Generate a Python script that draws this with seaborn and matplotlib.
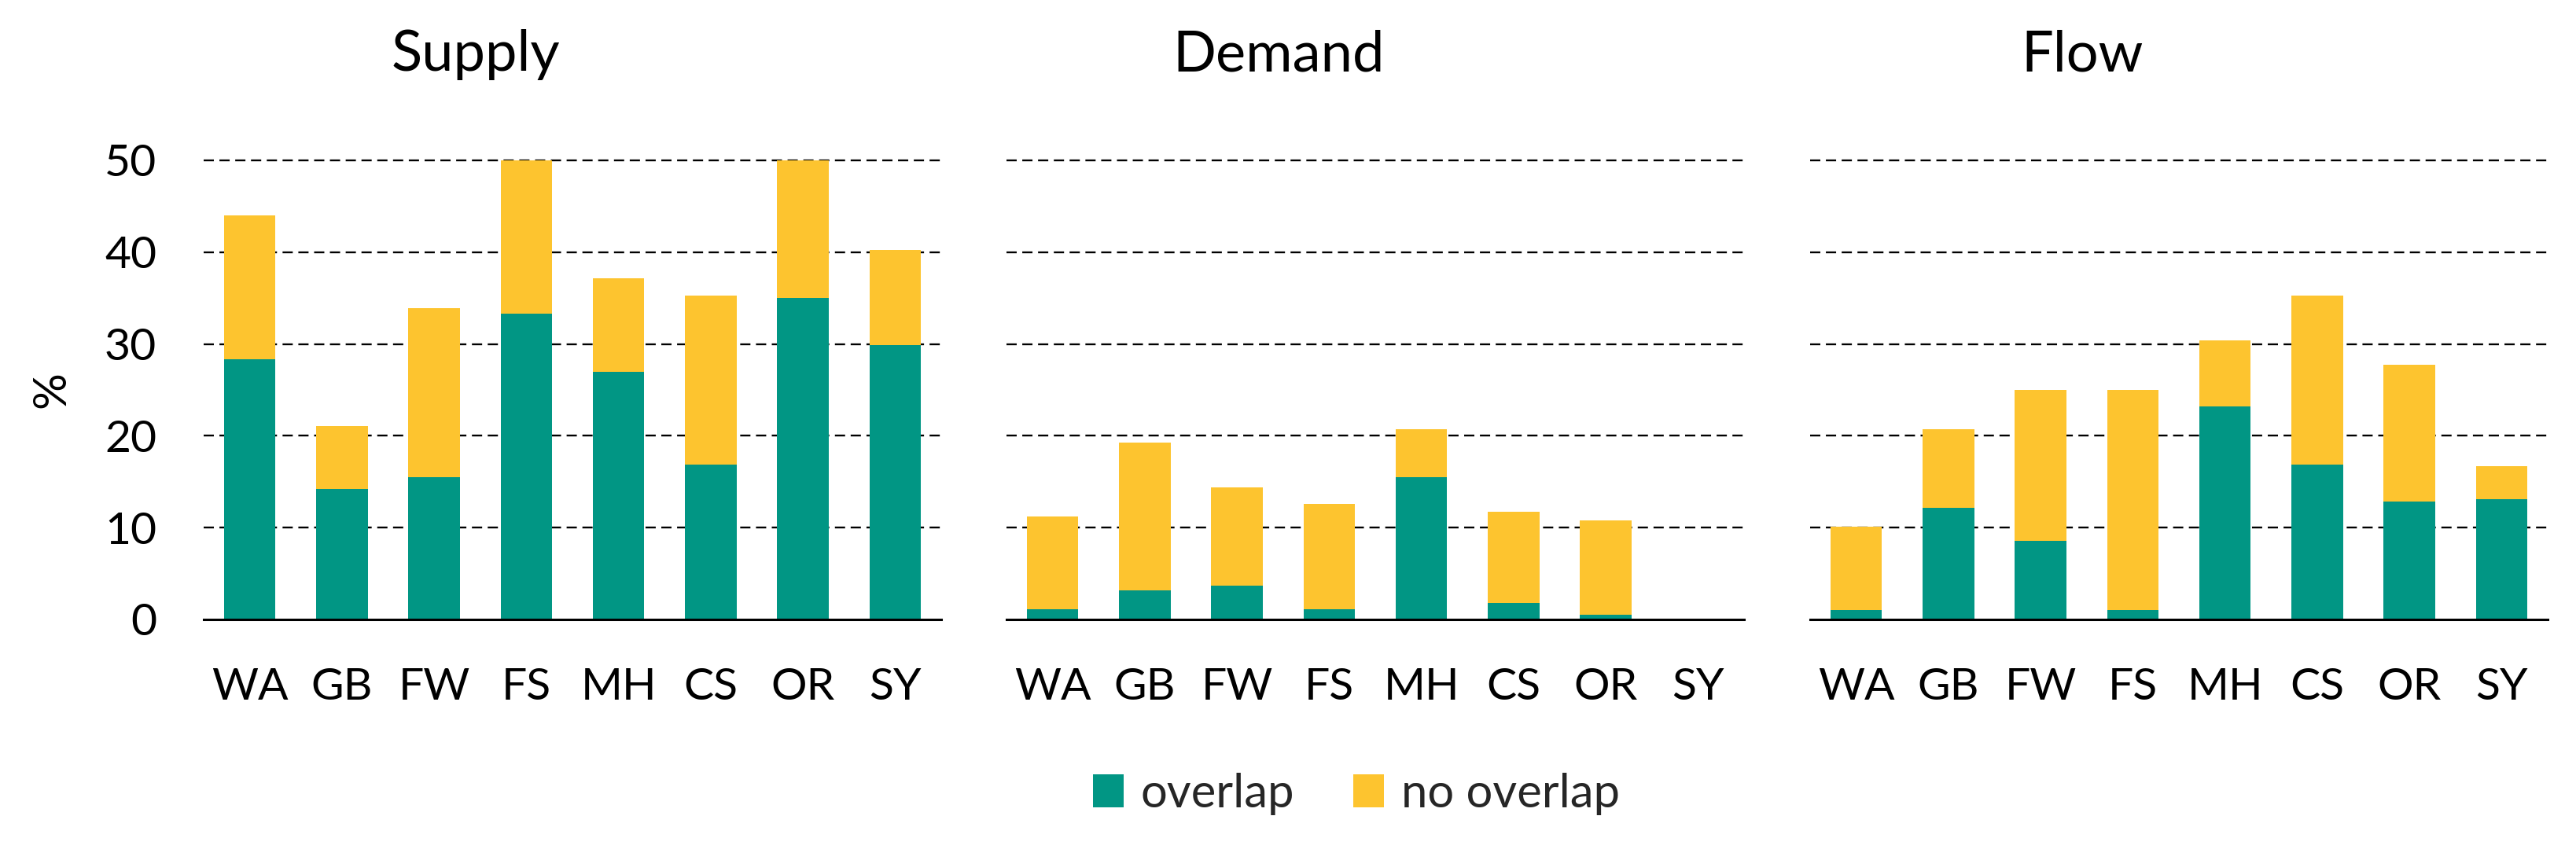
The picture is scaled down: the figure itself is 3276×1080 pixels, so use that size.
import matplotlib
matplotlib.use("Agg")
import matplotlib.pyplot as plt
import seaborn as sns
import pandas as pd
from matplotlib.patches import Patch

# ---- data ----
categories = ["WA", "GB", "FW", "FS", "MH", "CS", "OR", "SY"]
panel_titles = ["Supply", "Demand", "Flow"]

supply_overlap = [28.3, 14.2, 15.5, 33.3, 27.0, 16.9, 35.0, 29.9]
supply_no_overlap = [15.7, 6.9, 18.4, 16.7, 10.2, 18.4, 15.0, 10.3]

demand_overlap = [1.1, 3.2, 3.7, 1.1, 15.5, 1.8, 0.5, 0.0]
demand_no_overlap = [10.1, 16.1, 10.7, 11.5, 5.2, 9.9, 10.3, 0.0]

flow_overlap = [1.0, 12.2, 8.6, 1.0, 23.2, 16.9, 12.8, 13.1]
flow_no_overlap = [9.1, 8.5, 16.4, 24.0, 7.2, 18.4, 14.9, 3.6]

y_ticks = [0, 10, 20, 30, 40, 50]
series_labels = ["overlap", "no overlap"]

# ---- style ----
sns.set_theme(style="white")
plt.rcParams["font.family"] = ["Lato", "DejaVu Sans"]

TEAL = "#019684"
YELLOW = "#FDC42F"

fig = plt.figure(figsize=(32.76, 10.8), dpi=100)

lefts = [259 / 3276, 1280 / 3276, 2302 / 3276]
width = 938 / 3276
bottom = 1 - 788 / 1080
height = (788 - 204) / 1080

panels = [
    (supply_overlap, supply_no_overlap),
    (demand_overlap, demand_no_overlap),
    (flow_overlap, flow_no_overlap),
]

for i, (ov, nov) in enumerate(panels):
    ax = fig.add_axes([lefts[i], bottom, width, height])
    df = pd.DataFrame({
        "cat": categories,
        "overlap": ov,
        "total": [a + b for a, b in zip(ov, nov)],
    })
    for y in y_ticks[1:]:
        ax.axhline(y, color="black", lw=1.7, linestyle=(0, (5.5, 3.0)),
                   zorder=0, clip_on=False)
    sns.barplot(data=df, x="cat", y="total", color=YELLOW, saturation=1,
                width=0.56, ax=ax, zorder=2, linewidth=0)
    sns.barplot(data=df, x="cat", y="overlap", color=TEAL, saturation=1,
                width=0.56, ax=ax, zorder=3, linewidth=0)
    ax.set_xlim(-0.5, 7.5)
    ax.set_ylim(0, 50)
    ax.set_yticks(y_ticks)
    ax.set_xlabel("")
    ax.set_ylabel("")
    for s in ["top", "right", "left"]:
        ax.spines[s].set_visible(False)
    ax.spines["bottom"].set_color("black")
    ax.spines["bottom"].set_linewidth(2.2)
    ax.spines["bottom"].set_zorder(4)
    ax.tick_params(axis="x", length=0, pad=44, labelsize=41, colors="black")
    ax.tick_params(axis="y", length=0, pad=43, labelsize=41, colors="black")
    if i == 0:
        ax.set_ylabel("%", fontsize=42, color="black")
        ax.yaxis.set_label_coords(-0.178, 0.5)
    else:
        ax.set_yticklabels([])
    ax.set_title(panel_titles[i], x=0.369, pad=82, fontsize=52, color="black")

handles = [Patch(facecolor=TEAL, edgecolor="none"),
           Patch(facecolor=YELLOW, edgecolor="none")]
fig.legend(handles, series_labels, loc="center", ncol=2,
           bbox_to_anchor=(1725 / 3276, 1 - 1010 / 1080),
           frameon=False, fontsize=43, handlelength=0.66, handleheight=0.7,
           handletextpad=0.36, columnspacing=1.25)

fig.savefig("out.png", dpi=100)
